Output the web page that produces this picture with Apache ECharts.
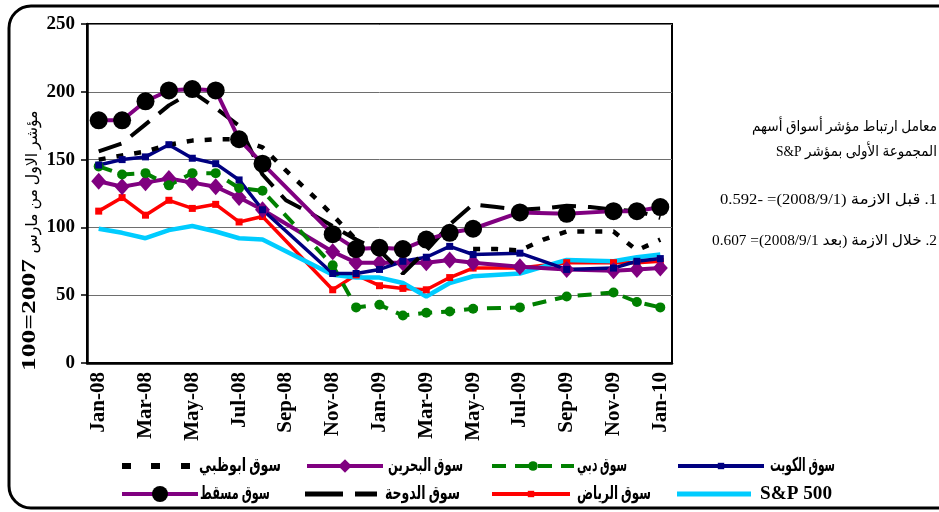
<!DOCTYPE html>
<html>
<head>
<meta charset="utf-8">
<script src="https://cdn.jsdelivr.net/npm/echarts@6/dist/echarts.min.js"></script>
<style>
  html, body { margin: 0; padding: 0; background: #fff; }
  #chart { width: 939px; height: 512px; }
</style>
</head>
<body>
<div id="chart"></div>
<script>
// months on the x axis
var months = ["Jan-08","Feb-08","Mar-08","Apr-08","May-08","Jun-08","Jul-08","Aug-08","Sep-08","Oct-08","Nov-08","Dec-08",
  "Jan-09","Feb-09","Mar-09","Apr-09","May-09","Jun-09","Jul-09","Aug-09","Sep-09","Oct-09","Nov-09","Dec-09","Jan-10"];
var yTicks = [0, 50, 100, 150, 200, 250];

// series values (null = no reading that month)
var kuwait   = [146,150,152,161,151,147,135,113,null,null,66,66,69,75,78,86,80,null,81,null,69,null,70,75,77];
var bahrain  = [134,130,133,136,133,130,122,113,null,null,82,74,74,74,74,76,74,null,71,null,69,null,68,69,70];
var dubai    = [145,139,140,131,140,140,129,127,null,null,72,41,43,35,37,38,40,null,41,null,49,null,52,45,41];
var abuDhabi = [150,153,156,161,164,165,165,159,142,126,109,91,null,null,null,null,84,84,83,91,97,97,97,83,91];
var sp500    = [99,96,92,98,101,97,92,91,null,null,65,63,63,59,49,59,64,null,66,null,76,null,75,78,80];
var riyadh   = [112,122,109,120,114,117,104,108,null,null,54,65,57,55,54,63,70,null,70,null,74,null,74,74,75];
var doha     = [156,162,176,190,200,188,175,139,120,111,101,91,83,66,83,102,117,115,113,114,116,115,113,112,107];
var muscat   = [179,179,193,201,202,201,165,147,null,null,95,84,85,84,91,96,99,null,111,null,110,null,112,112,115];

var serif = "'Liberation Serif', 'DejaVu Sans', serif";
var chart = echarts.init(document.getElementById("chart"));

// text measuring, used to squeeze the wide arabic fallback font
var mctx = document.createElement("canvas").getContext("2d");
function fitText(text, font, x, y, width, align, rot) {
  mctx.font = font;
  var w = mctx.measureText(text).width;
  return {
    type: "text", x: x, y: y, rotation: rot || 0, scaleX: width / w, silent: true,
    style: { text: text, font: font, fill: "#000", textAlign: align, textVerticalAlign: "middle" }
  };
}

function line(name, data, color, width, extra) {
  var s = {
    name: name,
    type: "line",
    data: data,
    connectNulls: true,
    showAllSymbol: true,
    symbol: "none",
    lineStyle: { color: color, width: width },
    itemStyle: { color: color },
    animation: false
  };
  for (var k in extra) s[k] = extra[k];
  return s;
}

// one legend per entry, so every entry sits where it does in the picture
function leg(name, left, cy, w, h, icon) {
  var item = { name: name };
  if (icon) item.icon = icon;
  return {
    data: [item],
    left: left,
    top: cy - h / 2,
    padding: 0,
    itemWidth: w,
    itemHeight: h,
    itemGap: 0,
    symbolKeepAspect: false,
    lineStyle: { width: 4 },
    formatter: function () { return ""; },
    textStyle: { fontSize: 1 }
  };
}

var rle = "\u202B", pdf = "\u202C";
var legFont = "bold 19px " + serif;
var noteFont = "15px " + serif;

var option = {
  backgroundColor: "#fff",
  animation: false,
  grid: {
    left: 87, right: 267, top: 24, bottom: 149,
    show: true, borderColor: "#000", borderWidth: 2
  },
  xAxis: {
    type: "category",
    data: months,
    boundaryGap: true,
    axisLine: { lineStyle: { color: "#000", width: 2.5 } },
    axisTick: { interval: 1, length: 6, lineStyle: { color: "#000", width: 1.5 } },
    axisLabel: { interval: 1, rotate: 90, margin: 9, color: "#000",
      fontFamily: serif, fontWeight: "bold", fontSize: 21 }
  },
  yAxis: {
    type: "value",
    min: yTicks[0],
    max: yTicks[yTicks.length - 1],
    interval: 50,
    axisLine: { show: true, lineStyle: { color: "#000", width: 2.5 } },
    axisTick: { show: true, length: 6, lineStyle: { color: "#000", width: 1.5 } },
    axisLabel: { margin: 12, color: "#000", fontFamily: serif, fontWeight: "bold", fontSize: 19 },
    splitLine: { lineStyle: { color: "#6e6e6e", width: 1 } }
  },
  legend: [
    leg("سوق الكويت", 676, 466, 86, 8),
    leg("سوق دبي", 490, 466, 82, 12),
    leg("سوق البحرين", 305, 466, 76, 17),
    leg("سوق ابوظبي", 122, 466, 68, 6, "path://M0,0h9v6h-9z M29,0h9v6h-9z M59,0h9v6h-9z"),
    leg("S&P 500", 677, 494, 74, 5, "path://M0,0h74v5h-74z"),
    leg("سوق الرياض", 490, 494, 78, 8),
    leg("سوق الدوحة", 305, 494, 72, 5, "path://M0,0h38v5h-38z M50,0h22v5h-22z"),
    leg("سوق مسقط", 120, 494, 76, 20)
  ],
  series: [
    line("سوق الرياض", riyadh, "#ff0000", 3.5, { symbol: "rect", symbolSize: 7 }),
    line("S&P 500", sp500, "#00ccff", 4.5, {}),
    line("سوق البحرين", bahrain, "#800080", 4, { symbol: "diamond", symbolSize: [15, 17] }),
    line("سوق دبي", dubai, "#008000", 4, {
      symbol: "circle", symbolSize: 10,
      lineStyle: { color: "#008000", width: 4, type: [14, 9] }
    }),
    line("سوق الكويت", kuwait, "#000080", 3.5, { symbol: "rect", symbolSize: 7 }),
    line("سوق ابوظبي", abuDhabi, "#000", 4.5, {
      connectNulls: false,
      lineStyle: { color: "#000", width: 4.5, type: [7, 11], cap: "butt" }
    }),
    line("سوق الدوحة", doha, "#000", 4, {
      lineStyle: { color: "#000", width: 4, type: [24, 12], cap: "butt" }
    }),
    line("سوق مسقط", muscat, "#800080", 4, {
      symbol: "circle", symbolSize: 18,
      itemStyle: { color: "#000" }
    })
  ],
  graphic: [
    {
      type: "rect",
      shape: { x: 9, y: 6, width: 950, height: 502, r: 22 },
      style: { fill: null, stroke: "#000", lineWidth: 3 },
      silent: true
    },
    // y axis title
    fitText("100=2007", "bold 19px " + serif, 30, 315, 112, "center", Math.PI / 2),
    fitText("مؤشر الاول من مارس", "16px " + serif, 33, 182, 143, "center", Math.PI / 2),
    // note on the right
    fitText(rle + "معامل ارتباط مؤشر أسواق أسهم" + pdf, noteFont, 937, 127, 185, "right"),
    fitText(rle + "المجموعة الأولى بمؤشر S&P" + pdf, noteFont, 937, 152, 161, "right"),
    fitText(rle + "1. قبل الازمة (2008/9/1)= -0.592" + pdf, noteFont, 937, 200, 217, "right"),
    fitText(rle + "2. خلال الازمة (بعد 2008/9/1)= 0.607" + pdf, noteFont, 937, 241, 225, "right"),
    // legend labels
    fitText("سوق الكويت", legFont, 770, 466, 65, "left"),
    fitText("سوق دبي", legFont, 577, 466, 50, "left"),
    fitText("سوق البحرين", legFont, 388, 466, 75, "left"),
    fitText("سوق ابوظبي", legFont, 199, 466, 82, "left"),
    fitText("S&P 500", legFont, 760, 494, 72, "left"),
    fitText("سوق الرياض", legFont, 577, 494, 74, "left"),
    fitText("سوق الدوحة", legFont, 385, 494, 75, "left"),
    fitText("سوق مسقط", legFont, 200, 494, 70, "left")
  ]
};

chart.setOption(option);
</script>
</body>
</html>
